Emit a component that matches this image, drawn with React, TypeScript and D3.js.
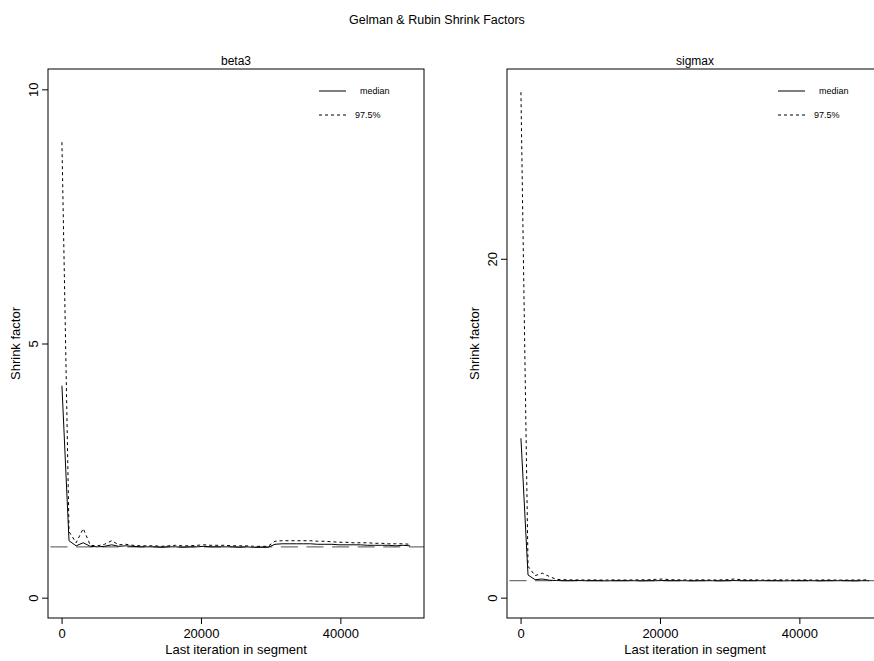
import React, { useRef, useEffect } from "react";
import * as d3 from "d3";

// last iteration of each segment
const iterations = [
  51, 1070, 2089, 3108, 4127, 5146, 6165, 7184, 8203, 9222, 10241, 11260, 12279, 13298, 14317, 15336, 16355,
  17374, 18393, 19412, 20431, 21450, 22469, 23488, 24507, 25526, 26545, 27564, 28583, 29602, 30621, 31640,
  32659, 33678, 34697, 35716, 36735, 37754, 38773, 39792, 40811, 41830, 42849, 43868, 44887, 45906, 46925,
  47944, 48963, 49982, 50000,
];

const beta3Median = [
  4.17, 1.12, 1.02, 1.08, 1.01, 1.0, 1.01, 1.04, 1.01, 1.02, 1.01, 1.0, 1.0, 1.0, 0.99, 1.0, 1.0, 0.99, 1.0,
  1.0, 1.01, 1.0, 1.0, 1.0, 1.0, 0.99, 1.0, 0.99, 0.99, 0.99, 1.05, 1.06, 1.06, 1.06, 1.06, 1.06, 1.05, 1.05,
  1.05, 1.04, 1.04, 1.04, 1.04, 1.03, 1.03, 1.03, 1.03, 1.02, 1.03, 1.02, 1.02,
];
const beta3Upper = [
  8.96, 1.3, 1.08, 1.36, 1.03, 1.02, 1.05, 1.12, 1.04, 1.05, 1.03, 1.02, 1.02, 1.02, 1.01, 1.02, 1.03, 1.02,
  1.02, 1.03, 1.04, 1.03, 1.03, 1.03, 1.02, 1.02, 1.02, 1.01, 1.01, 1.01, 1.11, 1.12, 1.12, 1.12, 1.12, 1.12,
  1.11, 1.11, 1.1, 1.09, 1.09, 1.08, 1.08, 1.08, 1.07, 1.07, 1.06, 1.06, 1.06, 1.05, 1.05,
];

const sigmaxMedian = [
  9.41, 1.34, 1.06, 1.1, 1.03, 1.01, 1.0, 1.0, 1.01, 1.0, 1.0, 1.0, 0.99, 1.0, 1.0, 1.0, 1.0, 0.99, 1.0, 1.0,
  1.01, 1.0, 1.0, 1.0, 0.99, 1.0, 1.0, 1.0, 0.99, 1.0, 1.01, 1.0, 1.0, 1.0, 1.0, 1.0, 1.0, 0.99, 1.0, 1.0, 1.0,
  1.0, 0.99, 1.0, 1.0, 1.0, 1.0, 0.99, 1.0, 1.0, 1.0,
];
const sigmaxUpper = [
  29.83, 1.85, 1.3, 1.45, 1.25, 1.08, 1.06, 1.05, 1.05, 1.04, 1.05, 1.04, 1.04, 1.05, 1.04, 1.04, 1.05, 1.05,
  1.06, 1.08, 1.1, 1.06, 1.05, 1.05, 1.04, 1.05, 1.05, 1.04, 1.05, 1.06, 1.1, 1.06, 1.05, 1.05, 1.04, 1.04,
  1.05, 1.05, 1.04, 1.04, 1.05, 1.04, 1.04, 1.05, 1.04, 1.04, 1.04, 1.04, 1.05, 1.04, 1.04,
];

const panelNames = ["beta3", "sigmax"];
const panelMedians = [beta3Median, sigmaxMedian];
const panelUppers = [beta3Upper, sigmaxUpper];
const panelYLims = [
  [0, 10],
  [0, 30],
];
const panelYTicks = [
  [0, 5, 10],
  [0, 20],
];
const xTicks = [0, 20000, 40000];
const legendLabels = ["median", "97.5%"];

const FONT = "'Liberation Sans', Arial, Helvetica, sans-serif";

const GelmanPlot = () => {
  const ref = useRef(null);

  useEffect(() => {
    const width = 874;
    const height = 661;
    const top = 69;
    const bottom = 618;
    const panelW = 376;
    const lefts = [48, 507];

    d3.select(ref.current).selectAll("*").remove();

    const svg = d3
      .select(ref.current)
      .append("svg")
      .attr("width", width)
      .attr("height", height)
      .style("position", "absolute")
      .style("left", 0)
      .style("top", 0)
      .style("font-family", FONT);

    svg.append("rect").attr("width", width).attr("height", height).attr("fill", "#fff");

    svg
      .append("text")
      .attr("x", width / 2)
      .attr("y", 24)
      .attr("text-anchor", "middle")
      .style("font-size", "12.5px")
      .text("Gelman & Rubin Shrink Factors");

    // R-style 4% extension of the data range
    const ext = ([a, b]) => {
      const d = (b - a) * 0.04;
      return [a - d, b + d];
    };

    panelNames.forEach((name, i) => {
      const left = lefts[i];
      const right = left + panelW;
      const g = svg.append("g");

      const x = d3.scaleLinear().domain(ext(d3.extent(iterations))).range([left, right]);
      const y = d3.scaleLinear().domain(ext(panelYLims[i])).range([bottom, top]);

      const line = d3
        .line()
        .x((d) => x(d[0]))
        .y((d) => y(d[1]));

      // reference line at 1
      g.append("line")
        .attr("x1", left)
        .attr("x2", right)
        .attr("y1", y(1))
        .attr("y2", y(1))
        .attr("stroke", "#707070")
        .attr("stroke-width", 1.3)
        .attr("stroke-dasharray", "17 8.6")
        .attr("stroke-dashoffset", -2.5);

      g.append("path")
        .datum(iterations.map((it, k) => [it, panelUppers[i][k]]))
        .attr("d", line)
        .attr("fill", "none")
        .attr("stroke", "#000")
        .attr("stroke-width", 1)
        .attr("stroke-dasharray", "3 3");

      g.append("path")
        .datum(iterations.map((it, k) => [it, panelMedians[i][k]]))
        .attr("d", line)
        .attr("fill", "none")
        .attr("stroke", "#000")
        .attr("stroke-width", 1);

      // box
      g.append("rect")
        .attr("x", left)
        .attr("y", top)
        .attr("width", panelW)
        .attr("height", bottom - top)
        .attr("fill", "none")
        .attr("stroke", "#000")
        .attr("stroke-width", 1);

      // x axis
      const xAxis = g
        .append("g")
        .attr("transform", `translate(0,${bottom})`)
        .call(d3.axisBottom(x).tickValues(xTicks).tickSize(6).tickPadding(5).tickFormat(d3.format("d")));
      xAxis.select(".domain").remove();
      xAxis.selectAll("text").style("font-size", "13px").style("font-family", FONT).attr("fill", "#000");

      // y axis, rotated labels as in R
      const yAxis = g
        .append("g")
        .attr("transform", `translate(${left},0)`)
        .call(d3.axisLeft(y).tickValues(panelYTicks[i]).tickSize(6));
      yAxis.select(".domain").remove();
      yAxis
        .selectAll("text")
        .attr("x", 0)
        .attr("y", -10)
        .attr("dy", 0)
        .attr("text-anchor", "middle")
        .attr("transform", "rotate(-90)")
        .attr("fill", "#000")
        .style("font-size", "13px")
        .style("font-family", FONT);

      g.append("text")
        .attr("x", (left + right) / 2)
        .attr("y", 65)
        .attr("text-anchor", "middle")
        .style("font-size", "12px")
        .text(name);

      g.append("text")
        .attr("x", (left + right) / 2)
        .attr("y", 654)
        .attr("text-anchor", "middle")
        .style("font-size", "13px")
        .text("Last iteration in segment");

      g.append("text")
        .attr("transform", `translate(${left - 28},${(top + bottom) / 2}) rotate(-90)`)
        .attr("text-anchor", "middle")
        .style("font-size", "13px")
        .text("Shrink factor");

      // legend
      legendLabels.forEach((lab, k) => {
        const ly = top + 22 + k * 24;
        g.append("line")
          .attr("x1", right - 105)
          .attr("x2", right - 78)
          .attr("y1", ly)
          .attr("y2", ly)
          .attr("stroke", "#000")
          .attr("stroke-width", 1)
          .attr("stroke-dasharray", k === 0 ? null : "3 3");
        g.append("text")
          .attr("x", right - (k === 0 ? 64 : 69))
          .attr("y", ly)
          .attr("dy", "0.35em")
          .style("font-size", "9px")
          .text(lab);
      });
    });
  }, []);

  return <div ref={ref}></div>;
};

export default function App() {
  return <GelmanPlot />;
}
